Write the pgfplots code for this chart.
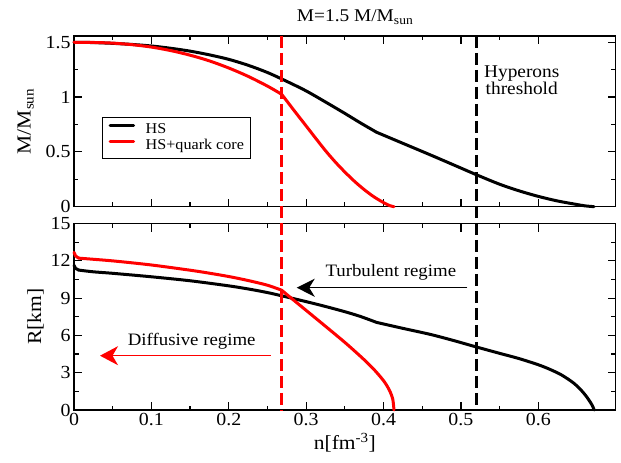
\documentclass[border=0pt]{standalone}
\usepackage{fontspec}
\setmainfont{Liberation Serif}[FakeStretch=1.08]
\usepackage{pgfplots}
\pgfplotsset{compat=1.18}
\usetikzlibrary{arrows.meta}
\begin{document}
\begin{tikzpicture}
\pgfplotsset{
 common/.style={
  scale only axis, width=541.7bp, xmin=0, xmax=0.7,
  axis line style={line width=1.4bp},
  every tick/.style={black, line width=1.2bp},
  major tick length=8bp, minor tick length=4.5bp,
  tick align=inside,
  xtick={0,0.1,0.2,0.3,0.4,0.5,0.6},
  minor x tick num=1, minor y tick num=1,
  ticklabel style={font=\fontsize{18.5}{19}\selectfont},
  /pgf/number format/assume math mode=true,
  label style={font=\fontsize{20}{21}\selectfont},
  clip=false,
 },
 curve/.style={line width=3bp, line join=round, line cap=round},
}
\begin{axis}[common, name=top, height=170.7bp, ymin=0, ymax=1.557,
  ytick={0,0.5,1,1.5}, xticklabels={},
  ylabel={M/M\textsubscript{sun}},
  ylabel style={yshift=5bp},
  legend style={at={(axis cs:0.0366,0.821)}, anchor=north west, draw=black, line width=0.8bp,
    inner xsep=6bp, inner ysep=5.5bp, font=\fontsize{15}{15}\selectfont,
    nodes={inner sep=0pt, text height=11bp, text depth=3.5bp}, row sep=1.3bp, column sep=10.6bp},
  legend cell align=left,
  legend image code/.code={\draw[#1] (0bp,4.5bp) -- (23.4bp,4.5bp);},
]
\addplot[curve, black, smooth] coordinates {(0,1.500) (0.025,1.497) (0.05,1.490) (0.075,1.480) (0.1,1.466) (0.125,1.445) (0.15,1.419) (0.175,1.385) (0.2,1.344) (0.225,1.290) (0.25,1.224) (0.275,1.143) (0.3,1.056) (0.325,0.955) (0.35,0.851) (0.37,0.765) (0.391,0.679)};
\addlegendentry{HS}
\addplot[curve, red, smooth] coordinates {(0,1.500) (0.025,1.498) (0.05,1.492) (0.075,1.478) (0.1,1.456) (0.125,1.424) (0.15,1.382) (0.175,1.330) (0.2,1.265) (0.225,1.189) (0.25,1.100) (0.2684,1.025)};
\addlegendentry{HS+quark core}
\addplot[curve, black, smooth, forget plot] coordinates {(0.391,0.679) (0.425,0.578) (0.46,0.474) (0.49,0.383) (0.5195,0.293) (0.55,0.205) (0.575,0.145) (0.6,0.094) (0.625,0.052) (0.65,0.020) (0.66,0.008) (0.672,0)};
\addplot[curve, red, smooth, forget plot] coordinates {(0.2684,1.025) (0.285,0.872) (0.3007,0.730) (0.313,0.618) (0.3257,0.505) (0.338,0.405) (0.3502,0.315) (0.363,0.228) (0.3757,0.152) (0.388,0.088) (0.4011,0.033) (0.408,0.010) (0.4135,0)};
\node[anchor=base, font=\fontsize{18}{18}\selectfont, inner sep=0pt] at (axis cs:0.5786,1.177) {Hyperons};
\node[anchor=base, font=\fontsize{18}{18}\selectfont, inner sep=0pt] at (axis cs:0.5786,1.019) {threshold};
\node[anchor=base, font=\fontsize{18}{18}\selectfont, inner sep=0pt, yshift=14.3bp] at (rel axis cs:0.519,1) {M=1.5 M/M\textsubscript{sun}};
\end{axis}
\begin{axis}[common, at={(top.south west)}, yshift=-16.9bp, anchor=north west,
  height=186.4bp, ymin=0, ymax=15, ytick={0,3,6,9,12,15},
  xlabel={n[fm\textsuperscript{-3}]}, ylabel={R[km]}]
\addplot[curve, black] coordinates {(0,11.65) (0.002,11.40) (0.006,11.26)};
\addplot[curve, black, smooth] coordinates {(0.006,11.26) (0.025,11.12) (0.05,11.00) (0.1,10.72) (0.15,10.40) (0.2,9.99) (0.227,9.72) (0.25,9.45) (0.2684,9.19) (0.3007,8.71) (0.325,8.33) (0.35,7.91) (0.37,7.53) (0.391,7.05)};
\addplot[curve, black, smooth] coordinates {(0.391,7.05) (0.425,6.57) (0.46,6.09) (0.49,5.60) (0.5195,5.08) (0.55,4.56) (0.575,4.14) (0.6,3.64) (0.615,3.27) (0.63,2.82) (0.645,2.20) (0.655,1.62) (0.662,1.10) (0.667,0.65) (0.670,0.33) (0.6715,0.12) (0.672,0)};
\addplot[curve, red] coordinates {(0,12.69) (0.002,12.40) (0.006,12.22)};
\addplot[curve, red, smooth] coordinates {(0.006,12.22) (0.05,12.00) (0.1,11.67) (0.15,11.25) (0.175,11.01) (0.2,10.74) (0.225,10.42) (0.25,10.04) (0.2684,9.64)};
\addplot[curve, red, smooth] coordinates {(0.2684,9.64) (0.2784,9.12) (0.3007,7.98) (0.3257,6.70) (0.3502,5.43) (0.37,4.33) (0.38,3.74) (0.39,3.10) (0.4,2.36) (0.405,1.89) (0.409,1.40) (0.412,0.85) (0.4135,0)};
\addplot[red, line width=3bp, dash pattern=on 12.5bp off 4.5bp] coordinates {(0.2684,30.1) (0.2684,0)};
\addplot[black, line width=3bp, dash pattern=on 12.5bp off 4.5bp] coordinates {(0.5195,30.1) (0.5195,0)};
\draw[black, line width=1.3bp, -{Stealth[length=18bp, width=18bp, inset=5.5bp]}] (axis cs:0.5083,9.84) -- (axis cs:0.2878,9.84);
\draw[red, line width=1.3bp, -{Stealth[length=18bp, width=19bp, inset=5.5bp]}] (axis cs:0.2542,4.37) -- (axis cs:0.0336,4.37);
\node[anchor=base, font=\fontsize{17.5}{18}\selectfont, inner sep=0pt] at (axis cs:0.4094,10.73) {Turbulent regime};
\node[anchor=base, font=\fontsize{17.5}{18}\selectfont, inner sep=0pt] at (axis cs:0.1521,5.23) {Diffusive regime};
\end{axis}
\pgfresetboundingbox
\path[use as bounding box] ([shift={(-74bp,36bp)}]top.north west) rectangle ([shift={(547bp,-427bp)}]top.north west);
\end{tikzpicture}
\end{document}
